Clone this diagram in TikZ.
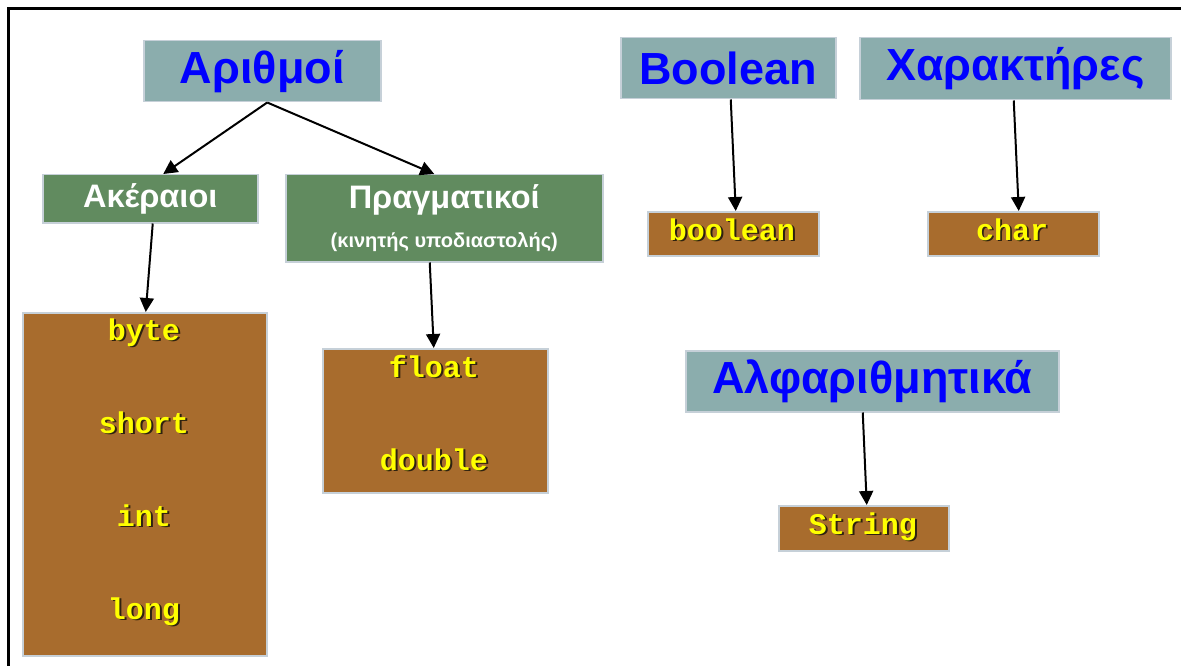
\documentclass[tikz,border=0pt]{standalone}
\usepackage{fontspec}
\setmainfont{Liberation Sans}
\newfontfamily\codefont{Liberation Mono}
\usetikzlibrary{arrows.meta}

\definecolor{headfill}{HTML}{8BADAD}
\definecolor{groupfill}{HTML}{618B5F}
\definecolor{typefill}{HTML}{A86C2D}
\definecolor{boxedge}{HTML}{C6D0D8}
\definecolor{headblue}{HTML}{0000FF}
\definecolor{codeyellow}{HTML}{FFFF00}
\definecolor{codeshade}{HTML}{2E2210}

% yellow monospace word with a dark drop shadow
\newcommand\codeword[1]{\leavevmode\rlap{\kern1.8pt\raisebox{-1.8pt}{\textcolor{codeshade}{#1}}}\textcolor{codeyellow}{#1}}

\tikzset{
  box/.style={draw=boxedge, line width=1.5pt, inner sep=0pt, anchor=north west},
  headbox/.style={box, fill=headfill, text=headblue,
    font=\fontsize{45}{50}\selectfont\bfseries},
  groupbox/.style={box, fill=groupfill, text=white,
    font=\fontsize{32.5}{36}\selectfont\bfseries},
  typebox/.style={box, fill=typefill},
  codetext/.style={inner sep=0pt, text height=14pt, text depth=0pt,
    font=\codefont\bfseries\fontsize{30}{32}\selectfont},
  link/.style={line width=2pt, -{Triangle[length=14pt,width=14pt]}},
}

\begin{document}
\begin{tikzpicture}[x=1pt,y=-1pt]
\useasboundingbox (0,0) rectangle (1181,666);
\fill[white] (0,0) rectangle (1181,666);

% page frame (top and left edges)
\draw[line width=3pt] (8.5,666) -- (8.5,8.5) -- (1181,8.5);

% category headings
\node[headbox, minimum width=237pt, minimum height=61pt] (num) at (143,40) {Αριθμοί};
\node[headbox, minimum width=215pt, minimum height=61pt] (bool) at (620,37) {Boolean};
\node[headbox, minimum width=311pt, minimum height=62pt] (chars) at (859,37) {Χαρακτήρες};
\node[headbox, minimum width=373pt, minimum height=61pt] (alnum) at (685,350) {Αλφαριθμητικά};

% numeric sub-groups
\node[groupbox, minimum width=215pt, minimum height=48pt] (integ) at (42,174) {Ακέραιοι};
\node[groupbox, minimum width=317pt, minimum height=87pt, align=center] (real) at (285,174)
  {Πραγματικοί\\[3pt]{\fontsize{20}{22}\selectfont (κινητής υποδιαστολής)}};

% primitive type boxes
\node[typebox, minimum width=244pt, minimum height=343pt] (intbox) at (22,312) {};
\node[typebox, minimum width=225pt, minimum height=144pt] (fltbox) at (322,348) {};
\node[typebox, minimum width=171pt, minimum height=44pt] (boolbox) at (647,211) {};
\node[typebox, minimum width=171pt, minimum height=44pt] (charbox) at (927,211) {};
\node[typebox, minimum width=170pt, minimum height=45pt] (strbox) at (778,505) {};

% type names
\node[codetext] (tbyte) at (144,333) {\codeword{byte}};
\node[codetext] (tshort) at (144,426) {\codeword{short}};
\node[codetext] (tint) at (144,519) {\codeword{int}};
\node[codetext] (tlong) at (144,612) {\codeword{long}};
\node[codetext] (tfloat) at (434,370) {\codeword{float}};
\node[codetext] (tdouble) at (434,463) {\codeword{double}};
\node[codetext] (tbool) at (732,233) {\codeword{boolean}};
\node[codetext] (tchar) at (1012,233) {\codeword{char}};
\node[codetext] (tstr) at (863,527) {\codeword{String}};

% connectors
\draw[link] ([xshift=5pt]num.south) -- ([xshift=13pt]integ.north);
\draw[link] ([xshift=5pt]num.south) -- ([xshift=-10pt]real.north);
\draw[link] ([xshift=2.5pt]integ.south) -- ([xshift=1pt]intbox.north);
\draw[link] ([xshift=-14.5pt]real.south) -- ([xshift=-1.5pt]fltbox.north);
\draw[link] ([xshift=2.5pt]bool.south) -- ([xshift=2.5pt]boolbox.north);
\draw[link] ([xshift=-1.5pt]chars.south) -- ([xshift=5.5pt]charbox.north);
\draw[link] ([xshift=-9.5pt]alnum.south) -- ([xshift=3pt]strbox.north);
\end{tikzpicture}
\end{document}
